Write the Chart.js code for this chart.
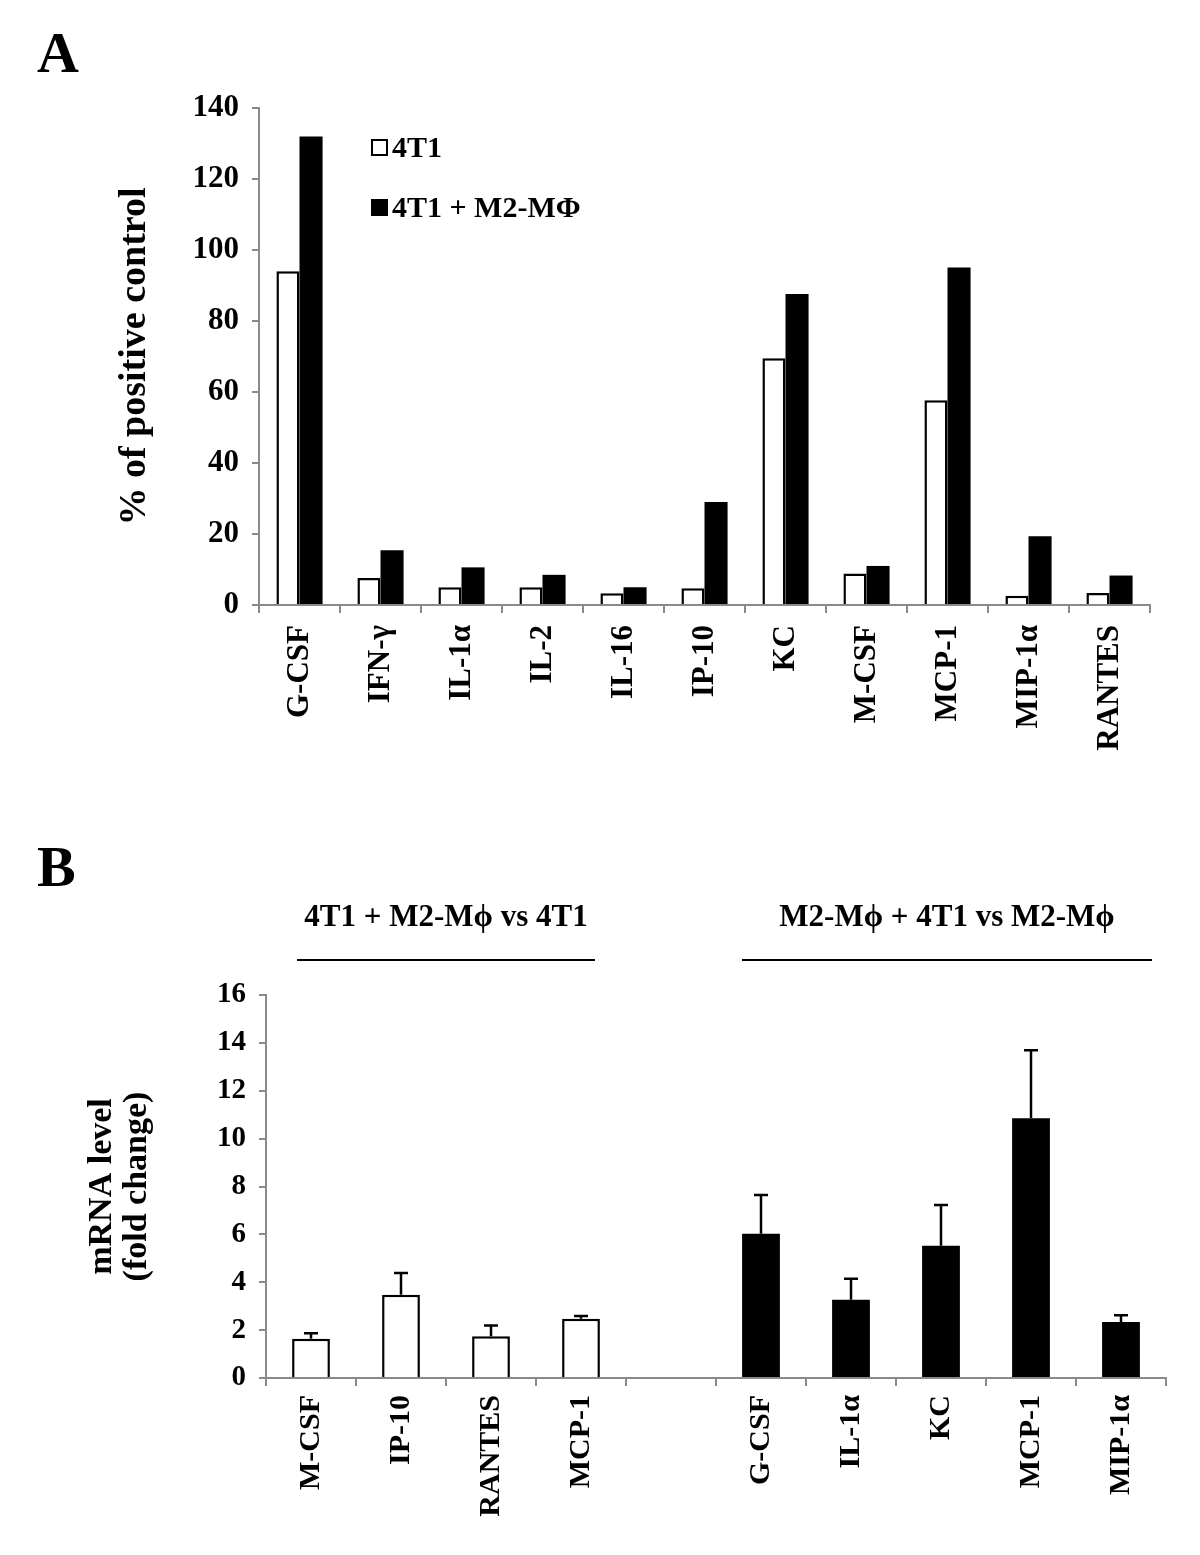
<!DOCTYPE html>
<html>
<head>
<meta charset="utf-8">
<script src="https://cdn.jsdelivr.net/npm/chart.js@4.4.0/dist/chart.umd.min.js"></script>
<style>
  body { margin:0; background:#fff; width:1200px; height:1555px; position:relative; overflow:hidden;
         font-family:"Liberation Serif","Times New Roman",serif; font-weight:bold; color:#000; }
  canvas { position:absolute; left:0; }
  .panel { position:absolute; left:37px; font-size:58px; line-height:58px; }
  .key { position:absolute; left:371px; font-size:30px; line-height:34px; display:flex; align-items:center; }
  .box { display:inline-block; width:13px; height:13px; border:2px solid #000; background:#fff; margin-right:4px; }
  .box.solid { background:#000; }
  .group { position:absolute; top:898px; font-size:31px; line-height:36px; text-align:center; white-space:nowrap; }
  .rule { position:absolute; top:959px; height:2px; background:#000; }
</style>
</head>
<body>

<div class="panel" style="top:24px">A</div>
<div class="panel" style="top:838px">B</div>

<canvas id="chart-a" width="1200" height="800" style="top:0"></canvas>
<canvas id="chart-b" width="1200" height="775" style="top:780px"></canvas>

<div class="key" style="top:130px"><span class="box"></span>4T1</div>
<div class="key" style="top:190px"><span class="box solid"></span>4T1 + M2-MΦ</div>

<div class="group" style="left:297px;width:298px">4T1 + M2-Mϕ vs 4T1</div>
<div class="rule" style="left:297px;width:298px"></div>
<div class="group" style="left:742px;width:410px">M2-Mϕ + 4T1 vs M2-Mϕ</div>
<div class="rule" style="left:742px;width:410px"></div>

<script>
// panel A - cytokine array
var cytokinesA = ["G-CSF", "IFN-γ", "IL-1α", "IL-2", "IL-16", "IP-10", "KC", "M-CSF", "MCP-1", "MIP-1α", "RANTES"];
var tumorOnly = [94, 7.6, 5.0, 5.0, 3.3, 4.7, 69.5, 8.9, 57.7, 2.6, 3.4];
var tumorPlusMacro = [132, 15.4, 10.6, 8.5, 5.0, 29.0, 87.6, 11.0, 95.1, 19.4, 8.3];
var yTicksA = [0, 20, 40, 60, 80, 100, 120, 140];

// panel B - qPCR fold change
var genesB = ["M-CSF", "IP-10", "RANTES", "MCP-1", "", "G-CSF", "IL-1α", "KC", "MCP-1", "MIP-1α"];
var tumorFold = [1.64, 3.48, 1.74, 2.47];
var tumorFoldErr = [0.23, 0.91, 0.45, 0.12];
var macroFold = [6.03, 3.27, 5.52, 10.85, 2.34];
var macroFoldErr = [1.62, 0.88, 1.71, 2.84, 0.28];
var yTicksB = [0, 2, 4, 6, 8, 10, 12, 14, 16];

Chart.defaults.font.family = '"Liberation Serif", "Times New Roman", serif';
Chart.defaults.font.weight = 'bold';
Chart.defaults.color = '#000';

var axisGray = '#8a8a8a';

function tickList(list) {
  return function (scale) {
    scale.ticks = list.map(function (v) { return { value: v }; });
  };
}

// error bars (upper only) drawn from the bar elements
var errorBars = {
  id: 'errorBars',
  afterDatasetsDraw: function (chart) {
    var ctx = chart.ctx;
    var yScale = chart.scales.y;
    ctx.save();
    ctx.strokeStyle = '#000';
    ctx.lineWidth = 2.5;
    chart.data.datasets.forEach(function (ds, i) {
      if (!ds.errors) return;
      var meta = chart.getDatasetMeta(i);
      meta.data.forEach(function (bar, j) {
        var v = ds.data[j];
        if (v === null || ds.errors[j] == null) return;
        var yTop = yScale.getPixelForValue(v + ds.errors[j]);
        ctx.beginPath();
        ctx.moveTo(bar.x, bar.y);
        ctx.lineTo(bar.x, yTop);
        ctx.moveTo(bar.x - 7, yTop);
        ctx.lineTo(bar.x + 7, yTop);
        ctx.stroke();
      });
    });
    ctx.restore();
  }
};

var chartA = new Chart(document.getElementById('chart-a'), {
  type: 'bar',
  data: {
    labels: cytokinesA,
    datasets: [{
      label: '4T1',
      data: tumorOnly,
      backgroundColor: '#fff',
      borderColor: '#000',
      borderWidth: 2.5
    }, {
      label: '4T1 + M2-MΦ',
      data: tumorPlusMacro,
      backgroundColor: '#000',
      borderColor: '#000',
      borderWidth: 0
    }]
  },
  options: {
    responsive: false,
    animation: false,
    layout: { padding: { left: 112, top: 108, right: 50, bottom: 0 } },
    datasets: { bar: { categoryPercentage: 0.57, barPercentage: 1 } },
    plugins: { legend: { display: false }, tooltip: { enabled: false } },
    scales: {
      x: {
        afterFit: function (s) { s.height = 195; },
        grid: { drawOnChartArea: false, color: axisGray, lineWidth: 2, tickLength: 8, offset: true },
        border: { color: axisGray, width: 2 },
        ticks: { autoSkip: false, maxRotation: 90, minRotation: 90, padding: 12, font: { size: 31 } }
      },
      y: {
        min: 0, max: 140,
        afterFit: function (s) { s.width = 147; },
        afterBuildTicks: tickList(yTicksA),
        grid: { drawOnChartArea: false, color: axisGray, lineWidth: 2, tickLength: 7 },
        border: { color: axisGray, width: 2 },
        ticks: { padding: 13, font: { size: 31 } },
        title: { display: true, text: '% of positive control', font: { size: 38 }, padding: 0 }
      }
    }
  }
});

var chartB = new Chart(document.getElementById('chart-b'), {
  type: 'bar',
  data: {
    labels: genesB,
    datasets: [{
      label: '4T1 + M2-Mϕ vs 4T1',
      data: tumorFold.concat(genesB.slice(tumorFold.length).map(function () { return null; })),
      errors: tumorFoldErr,
      backgroundColor: '#fff',
      borderColor: '#000',
      borderWidth: 2.5
    }, {
      label: 'M2-Mϕ + 4T1 vs M2-Mϕ',
      data: genesB.slice(0, genesB.length - macroFold.length).map(function () { return null; }).concat(macroFold),
      errors: genesB.slice(0, genesB.length - macroFold.length).map(function () { return null; }).concat(macroFoldErr),
      backgroundColor: '#000',
      borderColor: '#000',
      borderWidth: 0
    }]
  },
  options: {
    responsive: false,
    animation: false,
    layout: { padding: { left: 85, top: 215, right: 34, bottom: 0 } },
    datasets: { bar: { grouped: false, categoryPercentage: 1, barPercentage: 0.42 } },
    plugins: { legend: { display: false }, tooltip: { enabled: false } },
    scales: {
      x: {
        afterFit: function (s) { s.height = 177; },
        grid: { drawOnChartArea: false, color: axisGray, lineWidth: 2, tickLength: 8, offset: true },
        border: { color: axisGray, width: 2 },
        ticks: { autoSkip: false, maxRotation: 90, minRotation: 90, padding: 9, font: { size: 30 } }
      },
      y: {
        min: 0, max: 16,
        afterFit: function (s) { s.width = 181; },
        afterBuildTicks: tickList(yTicksB),
        grid: { drawOnChartArea: false, color: axisGray, lineWidth: 2, tickLength: 7 },
        border: { color: axisGray, width: 2 },
        ticks: { padding: 13, font: { size: 29 } },
        title: { display: true, text: ['mRNA level', '(fold change)'], font: { size: 34, lineHeight: 1.03 }, padding: 0 }
      }
    }
  },
  plugins: [errorBars]
});
</script>
</body>
</html>
